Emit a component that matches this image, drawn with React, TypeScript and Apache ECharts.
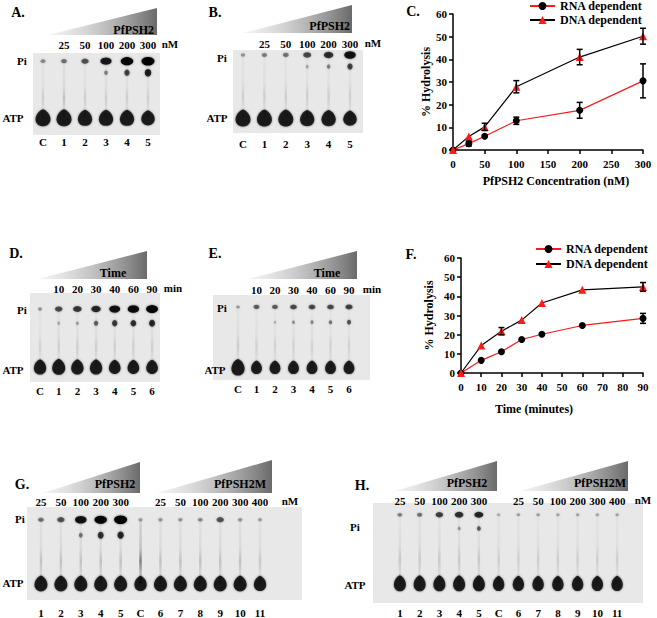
import React, { useEffect, useRef } from "react";
import * as echarts from "echarts";

const FONT = "'Liberation Serif', 'Times New Roman', serif";

// ---------- Panel C: hydrolysis vs PfPSH2 concentration ----------
const concX = [0, 25, 50, 100, 200, 300];
const rnaConc = [0, 2.8, 6.1, 12.9, 17.5, 30.5];
const rnaConcErr = [0, 1.1, 0, 1.6, 3.5, 7.5];
const dnaConc = [0, 6.0, 10.2, 27.9, 41.0, 50.2];
const dnaConcErr = [0, 0, 1.6, 2.7, 3.4, 3.5];

// ---------- Panel F: hydrolysis vs time ----------
const timeX = [0, 10, 20, 30, 40, 60, 90];
const rnaTime = [0, 6.6, 11.1, 17.5, 20.2, 24.8, 28.5];
const rnaTimeErr = [0, 0, 0, 0, 0, 0, 2.6];
const dnaTime = [0, 14.3, 21.8, 27.6, 36.5, 43.4, 44.9];
const dnaTimeErr = [0, 0, 1.9, 0, 0, 0, 2.3];

const yTicks = [0, 10, 20, 30, 40, 50, 60];

// ---------- Gels (lane labels, loading labels, spot intensities 0..1, Rf of ATP/mid/Pi) ----------
const lanesAB = ["C", "1", "2", "3", "4", "5"];
const concAB = ["", "25", "50", "100", "200", "300"];
const lanesDE = ["C", "1", "2", "3", "4", "5", "6"];
const timeDE = ["", "10", "20", "30", "40", "60", "90"];
const lanesGH = ["1", "2", "3", "4", "5", "C", "6", "7", "8", "9", "10", "11"];
const concGH = ["25", "50", "100", "200", "300", "", "25", "50", "100", "200", "300", "400"];

const piA = [0.2, 0.3, 0.45, 0.8, 0.95, 1.0];
const midA = [0, 0, 0, 0.25, 0.55, 0.75];
const atpA = [1, 1, 0.95, 0.95, 0.95, 0.9];
const streakA = [0.4, 0.6, 0.4, 0.4, 0.4, 0.4];
const rfA = [0.21, 0.76, 0.9];

const piB = [0.15, 0.25, 0.3, 0.5, 0.65, 0.85];
const midB = [0, 0, 0, 0.1, 0.25, 0.55];
const atpB = [1, 1, 1, 0.95, 0.95, 0.9];
const streakB = [0.4, 0.4, 0.4, 0.4, 0.4, 0.4];
const rfB = [0.18, 0.8, 0.94];

const piD = [0.15, 0.5, 0.6, 0.7, 0.85, 0.9, 0.95];
const midD = [0, 0.1, 0.15, 0.4, 0.6, 0.65, 0.7];
const atpD = [0.95, 1, 0.95, 0.95, 0.9, 0.9, 0.9];
const streakD = [0.35, 0.4, 0.4, 0.4, 0.4, 0.4, 0.4];
const rfD = [0.17, 0.66, 0.82];

const piE = [0.15, 0.4, 0.4, 0.5, 0.5, 0.5, 0.55];
const midE = [0, 0, 0.08, 0.2, 0.25, 0.3, 0.45];
const atpE = [1.1, 0.9, 0.9, 0.9, 0.9, 0.9, 0.9];
const streakE = [0.45, 0.35, 0.35, 0.35, 0.35, 0.35, 0.35];
const rfE = [0.15, 0.68, 0.86];

const piG = [0.3, 0.45, 0.85, 0.95, 1.0, 0.12, 0.15, 0.15, 0.2, 0.45, 0.15, 0.12];
const midG = [0, 0, 0.3, 0.65, 0.7, 0, 0, 0, 0, 0, 0, 0];
const atpG = [1, 1, 1, 1, 1, 0.95, 1, 1, 1, 1, 1, 0.95];
const streakG = [0.6, 0.6, 0.6, 0.6, 0.6, 1.6, 0.6, 0.6, 0.6, 0.6, 0.6, 0.5];
const rfG = [0.16, 0.69, 0.86];

const piH = [0.25, 0.3, 0.55, 0.65, 0.7, 0.08, 0.12, 0.12, 0.1, 0.1, 0.1, 0.1];
const midH = [0, 0, 0, 0.18, 0.4, 0, 0, 0, 0, 0, 0, 0];
const atpH = [1, 1, 1, 1, 1, 0.95, 0.95, 0.95, 0.95, 0.95, 0.95, 0.95];
const streakH = [0.5, 0.5, 0.5, 0.5, 0.5, 0.4, 0.4, 0.4, 0.4, 0.4, 0.4, 0.4];
const rfH = [0.18, 0.74, 0.88];

type Gel = {
  lanes: string[]; load: string[]; pi: number[]; mid: number[]; atp: number[]; streak: number[]; rf: number[];
};
type GelLayout = {
  left: number; width: number; top: number; height: number; bg: number[];
  topMargin: number; bottomMargin: number; spot: number; atpSize: number[];
};

const gelList: Gel[] = [
  { lanes: lanesAB, load: concAB, pi: piA, mid: midA, atp: atpA, streak: streakA, rf: rfA },
  { lanes: lanesAB, load: concAB, pi: piB, mid: midB, atp: atpB, streak: streakB, rf: rfB },
  { lanes: lanesDE, load: timeDE, pi: piD, mid: midD, atp: atpD, streak: streakD, rf: rfD },
  { lanes: lanesDE, load: timeDE, pi: piE, mid: midE, atp: atpE, streak: streakE, rf: rfE },
  { lanes: lanesGH, load: concGH, pi: piG, mid: midG, atp: atpG, streak: streakG, rf: rfG },
  { lanes: lanesGH, load: concGH, pi: piH, mid: midH, atp: atpH, streak: streakH, rf: rfH },
];

const gelLayouts: GelLayout[] = [
  { left: 32.5, width: 126, top: 53, height: 82, bg: [33, 53, 127, 82], topMargin: 2.5, bottomMargin: 1.5, spot: 1, atpSize: [15, 17] },
  { left: 232.3, width: 128.4, top: 50, height: 83, bg: [233, 50, 130, 83], topMargin: 0.5, bottomMargin: 5.5, spot: 1, atpSize: [15, 17] },
  { left: 30.7, width: 130.7, top: 293, height: 89, bg: [30, 293, 130, 89], topMargin: -1.5, bottomMargin: 3.5, spot: 0.95, atpSize: [13, 16] },
  { left: 228.75, width: 129.5, top: 295, height: 85, bg: [213, 295, 157, 85], topMargin: 0, bottomMargin: 3.5, spot: 0.85, atpSize: [12, 15] },
  { left: 31, width: 239, top: 507, height: 93, bg: [27, 507, 275, 93], topMargin: -0.5, bottomMargin: 9, spot: 1, atpSize: [13, 16] },
  { left: 390, width: 237, top: 503, height: 100, bg: [373, 503, 270, 100], topMargin: -3, bottomMargin: 6, spot: 0.9, atpSize: [12, 16] },
];

const RED = "#ff1a1a";
const DROP = "path://M50,0 C75,6 100,40 100,70 C100,100 78,120 50,120 C22,120 0,100 0,70 C0,40 25,6 50,0 Z";

const bold = { fontFamily: FONT, fontWeight: "bold" as const, color: "#000" };

function errSeries(xs: number[], ys: number[], errs: number[], axis: number) {
  const data: number[][] = [];
  xs.forEach((x, i) => {
    if (errs[i] > 0) data.push([x, ys[i] - errs[i], ys[i] + errs[i]]);
  });
  return {
    type: "custom",
    xAxisIndex: axis,
    yAxisIndex: axis,
    silent: true,
    z: 4,
    data,
    renderItem: (_p: any, api: any) => {
      const lo = api.coord([api.value(0), api.value(1)]);
      const hi = api.coord([api.value(0), api.value(2)]);
      const w = 3;
      const st = { stroke: "#000", lineWidth: 1.5 };
      return {
        type: "group",
        children: [
          { type: "line", shape: { x1: lo[0], y1: lo[1], x2: hi[0], y2: hi[1] }, style: st },
          { type: "line", shape: { x1: lo[0] - w, y1: lo[1], x2: lo[0] + w, y2: lo[1] }, style: st },
          { type: "line", shape: { x1: hi[0] - w, y1: hi[1], x2: hi[0] + w, y2: hi[1] }, style: st },
        ],
      };
    },
  };
}

function lineSeries(xs: number[], rna: number[], dna: number[], axis: number) {
  return [
    {
      name: "RNA dependent",
      type: "line",
      xAxisIndex: axis,
      yAxisIndex: axis,
      data: xs.map((x, i) => [x, rna[i]]),
      symbol: "circle",
      symbolSize: 7,
      itemStyle: { color: "#000" },
      lineStyle: { color: RED, width: 1.2 },
      z: 3,
    },
    {
      name: "DNA dependent",
      type: "line",
      xAxisIndex: axis,
      yAxisIndex: axis,
      data: xs.map((x, i) => [x, dna[i]]),
      symbol: "triangle",
      symbolSize: 8,
      itemStyle: { color: RED },
      lineStyle: { color: "#000", width: 1.2 },
      z: 3,
    },
  ];
}

function valueAxisCommon() {
  return {
    axisLine: { show: true, lineStyle: { color: "#000", width: 1.5 } },
    axisTick: { show: true, length: 4, lineStyle: { color: "#000", width: 1.5 } },
    splitLine: { show: false },
    axisLabel: { ...bold, fontSize: 11 },
    nameTextStyle: { ...bold, fontSize: 12 },
  };
}

function buildOption() {
  const grid: any[] = [
    { left: 453, top: 14, width: 190, height: 136 },
    { left: 461, top: 258, width: 182, height: 115 },
  ];
  const xAxis: any[] = [
    {
      gridIndex: 0, type: "value", min: 0, max: 300, interval: 50,
      ...valueAxisCommon(),
      axisLabel: { ...bold, fontSize: 11, margin: 8 },
      name: "PfPSH2 Concentration (nM)", nameLocation: "middle", nameGap: 25,
      nameTextStyle: { ...bold, fontSize: 12, padding: [0, 0, 0, 16] },
    },
    {
      gridIndex: 1, type: "value", min: 0, max: 90, interval: 10,
      ...valueAxisCommon(),
      axisLabel: { ...bold, fontSize: 11, margin: 8 },
      name: "Time (minutes)", nameLocation: "middle", nameGap: 30,
      nameTextStyle: { ...bold, fontSize: 12, padding: [0, 36, 0, 0] },
    },
  ];
  const yAxis: any[] = [
    {
      gridIndex: 0, type: "value", min: yTicks[0], max: yTicks[yTicks.length - 1], interval: yTicks[1] - yTicks[0],
      ...valueAxisCommon(),
      axisLabel: { ...bold, fontSize: 11, margin: 6 },
      name: "% Hydrolysis", nameLocation: "middle", nameGap: 20,
    },
    {
      gridIndex: 1, type: "value", min: yTicks[0], max: yTicks[yTicks.length - 1], interval: yTicks[1] - yTicks[0],
      ...valueAxisCommon(),
      axisLabel: { ...bold, fontSize: 11, margin: 6 },
      name: "% Hydrolysis", nameLocation: "middle", nameGap: 26,
    },
  ];
  const series: any[] = [
    errSeries(concX, rnaConc, rnaConcErr, 0),
    errSeries(concX, dnaConc, dnaConcErr, 0),
    ...lineSeries(concX, rnaConc, dnaConc, 0),
    errSeries(timeX, rnaTime, rnaTimeErr, 1),
    errSeries(timeX, dnaTime, dnaTimeErr, 1),
    ...lineSeries(timeX, rnaTime, dnaTime, 1),
  ];

  const graphic: any[] = [];

  gelList.forEach((g, k) => {
    const L = gelLayouts[k];
    const gi = grid.length;
    grid.push({ left: L.left, top: L.top, width: L.width, height: L.height });
    const xb = xAxis.length;
    xAxis.push({
      gridIndex: gi, type: "category", data: g.lanes, position: "bottom",
      axisLine: { show: false }, axisTick: { show: false }, splitLine: { show: false },
      axisLabel: { ...bold, fontSize: 11, interval: 0, margin: L.bottomMargin },
    });
    xAxis.push({
      gridIndex: gi, type: "category", data: g.load, position: "top",
      axisLine: { show: false }, axisTick: { show: false }, splitLine: { show: false },
      axisLabel: { ...bold, fontSize: 11, interval: 0, margin: L.topMargin },
    });
    const yi = yAxis.length;
    yAxis.push({ gridIndex: gi, type: "value", min: 0, max: 1, show: false });

    const [rfAtp, rfMid, rfPi] = g.rf;
    // streaks (stacked bars from ATP spot to Pi spot)
    series.push({
      type: "bar", xAxisIndex: xb, yAxisIndex: yi, stack: "s" + k, barWidth: 2.5, silent: true,
      itemStyle: { color: "rgba(0,0,0,0)" },
      data: g.lanes.map(() => rfAtp),
    });
    series.push({
      type: "bar", xAxisIndex: xb, yAxisIndex: yi, stack: "s" + k, barWidth: 2.5, silent: true,
      data: g.streak.map((s) => ({
        value: rfPi - rfAtp,
        itemStyle: {
          color: {
            type: "linear", x: 0, y: 0, x2: 0, y2: 1,
            colorStops: [
              { offset: 0, color: `rgba(0,0,0,${Math.min(1, 0.06 * s)})` },
              { offset: 0.45, color: `rgba(0,0,0,${Math.min(1, 0.1 * s)})` },
              { offset: 0.65, color: `rgba(0,0,0,${Math.min(1, 0.28 * s)})` },
              { offset: 0.85, color: `rgba(0,0,0,${Math.min(1, 0.12 * s)})` },
              { offset: 1, color: `rgba(0,0,0,${Math.min(1, 0.35 * s)})` },
            ],
          },
        },
      })),
    });
    const spot = (vals: number[], rf: number, tall: boolean) =>
      vals
        .map((v, i) => ({ v, i }))
        .filter((d) => d.v > 0)
        .map(({ v, i }) => ({
          value: [i, rf],
          symbolSize: tall
            ? [L.spot * (2 + 6 * v), L.spot * (3 + 6 * v)]
            : [L.spot * (3 + 10 * v), L.spot * (2.5 + 6 * v)],
          itemStyle: { opacity: Math.min(1, 0.15 + 0.85 * v) },
        }));
    series.push({
      type: "scatter", xAxisIndex: xb, yAxisIndex: yi, silent: true, symbol: "circle",
      itemStyle: { color: "#000", shadowBlur: 2, shadowColor: "rgba(0,0,0,0.6)" },
      data: [...spot(g.pi, rfPi, false), ...spot(g.mid, rfMid, true)],
      z: 3,
    });
    series.push({
      type: "scatter", xAxisIndex: xb, yAxisIndex: yi, silent: true, symbol: DROP,
      itemStyle: { color: "#000", shadowBlur: 2, shadowColor: "rgba(0,0,0,0.6)" },
      data: g.atp.map((a, i) => ({
        value: [i, rfAtp],
        symbolSize: [L.atpSize[0] * a, L.atpSize[1] * a],
      })),
      z: 3,
    });

    graphic.push({
      type: "rect", z: 0, silent: true,
      shape: { x: L.bg[0], y: L.bg[1], width: L.bg[2], height: L.bg[3] },
      style: { fill: "#e8e8e8" },
    });
  });

  const T = (text: string, x: number, y: number, size = 11, align = "center") => ({
    type: "text", z: 100, silent: true,
    style: {
      text, x, y, fill: "#000",
      font: `bold ${size}px ${FONT}`,
      fontSize: size, fontWeight: "bold", fontFamily: FONT,
      textAlign: align, align, textVerticalAlign: "middle", verticalAlign: "middle",
    },
  });
  const wedge = (x0: number, x1: number, yTop: number, yBot: number) => ({
    type: "polygon", z: 1, silent: true,
    shape: { points: [[x0, yBot], [x1, yTop], [x1, yBot]] },
    style: {
      fill: {
        type: "linear", x: 0, y: 0, x2: 1, y2: 0,
        colorStops: [
          { offset: 0, color: "rgba(200,200,200,0.2)" },
          { offset: 1, color: "#6a6a6a" },
        ],
      },
    },
  });

  graphic.push(
    wedge(48, 157, 8, 35), wedge(243, 352, 5, 33),
    wedge(38, 147, 251, 279), wedge(248, 357, 251, 279),
    wedge(43, 140, 462, 493), wedge(157, 272, 460, 493),
    wedge(395, 497, 461, 491), wedge(520, 628, 461, 491),
    T("PfPSH2", 154, 30, 12, "right"), T("PfPSH2", 350, 26, 12, "right"),
    T("Time", 113, 273, 12), T("Time", 327, 273, 12),
    T("PfPSH2", 115, 484, 12), T("PfPSH2M", 240, 484, 12),
    T("PfPSH2", 467, 483, 12), T("PfPSH2M", 600, 483, 12),
    T("A.", 18, 12, 14), T("B.", 215, 12, 14), T("C.", 413, 11, 14),
    T("D.", 16, 253, 14), T("E.", 215, 253, 14), T("F.", 411, 254, 14),
    T("G.", 22, 484, 14), T("H.", 362, 485, 14),
    T("Pi", 22, 61), T("Pi", 222, 58), T("Pi", 22, 310), T("Pi", 222, 308), T("Pi", 20, 519), T("Pi", 355, 527),
    T("ATP", 13, 118), T("ATP", 217, 118), T("ATP", 13, 370), T("ATP", 215, 370), T("ATP", 13, 583), T("ATP", 355, 585),
    T("nM", 170, 44), T("nM", 373, 43), T("nM", 290, 501), T("nM", 643, 500),
    T("min", 173, 288), T("min", 372, 289)
  );

  const legendCommon = {
    orient: "vertical",
    data: ["RNA dependent", "DNA dependent"],
    selectedMode: false,
    padding: 0,
    itemWidth: 25,
    itemHeight: 10,
    textStyle: { ...bold, fontSize: 12 },
  };

  return {
    animation: false,
    backgroundColor: "#fff",
    grid,
    xAxis,
    yAxis,
    series,
    graphic,
    legend: [
      { ...legendCommon, left: 529, top: 0, itemGap: 2 },
      { ...legendCommon, left: 535, top: 243, itemGap: 3 },
    ],
  };
}

export default function App() {
  const ref = useRef<HTMLDivElement>(null);
  useEffect(() => {
    document.body.style.margin = "0";
    const chart = echarts.init(ref.current!, null, { renderer: "svg" });
    chart.setOption(buildOption() as any);
    return () => chart.dispose();
  }, []);
  return <div ref={ref} style={{ width: 657, height: 618 }} />;
}
